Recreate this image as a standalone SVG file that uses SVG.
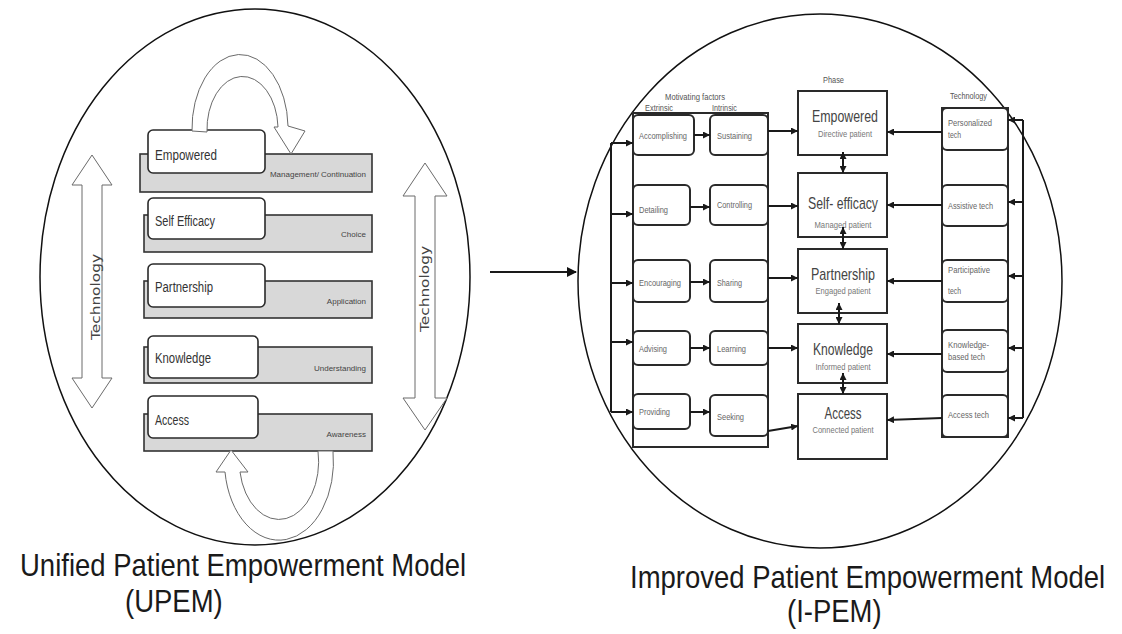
<svg xmlns="http://www.w3.org/2000/svg" width="1122" height="634" viewBox="0 0 1122 634">
  <style>
    .ring{fill:none;stroke:#111;stroke-width:1.5}
    .hollow{fill:#fff;stroke:#6a6a6a;stroke-width:1}
    .bar{fill:#d8d8d8;stroke:#333;stroke-width:1.6}
    .step{fill:#fff;stroke:#2a2a2a;stroke-width:1.6}
    text{font-family:"Liberation Sans",Arial,sans-serif}
    .stepT{font-size:14px;fill:#333}
    .barT{font-size:8px;fill:#444;text-anchor:end}
    .techV{font-family:"DejaVu Sans",sans-serif;font-size:13px;fill:#444;text-anchor:middle}
    .box{fill:#fff;stroke:#2a2a2a;stroke-width:2}
    .frame{fill:none;stroke:#2a2a2a;stroke-width:2}
    .wire{fill:none;stroke:#1a1a1a;stroke-width:2}
    .small{font-size:9px;fill:#666}
    .head{font-size:9px;fill:#555}
    .phT{font-size:17px;fill:#444;text-anchor:middle}
    .phS{font-size:9.5px;fill:#777;text-anchor:middle}
    .title{font-size:27.5px;fill:#1a1a1a}
  </style>
  <defs>
    <marker id="ah" viewBox="0 0 10 10" refX="10" refY="5" markerWidth="3.5" markerHeight="3.5" orient="auto-start-reverse" markerUnits="strokeWidth">
      <path d="M0,0 L10,5 L0,10 z" fill="#1a1a1a"/>
    </marker>
    <marker id="ahL" viewBox="0 0 10 10" refX="9" refY="5" markerWidth="5" markerHeight="5" orient="auto" markerUnits="strokeWidth">
      <path d="M0,0 L10,5 L0,10 z" fill="#111"/>
    </marker>
  </defs>

  <!-- ===== Unified model (left) ===== -->
  <g id="upem-circle">
    <ellipse class="ring" cx="255" cy="277" rx="215" ry="268"/>
  </g>

  <g id="upem-tech-left">
    <polygon class="hollow" points="92,155 112,185 102,185 102,378 112,378 92,408 72,378 82,378 82,185 72,185"/>
    <text class="techV" transform="translate(100,297) rotate(-90)" textLength="86" lengthAdjust="spacingAndGlyphs">Technology</text>
  </g>
  <g id="upem-tech-right">
    <polygon class="hollow" points="425,163 447,196 435,196 435,398 447,398 425,430 403,398 415,398 415,196 403,196"/>
    <text class="techV" transform="translate(429,289) rotate(-90)" textLength="86" lengthAdjust="spacingAndGlyphs">Technology</text>
  </g>

  <g id="upem-empowered">
    <rect class="bar" x="140" y="154" width="232" height="38"/>
    <rect class="step" x="148" y="130" width="117" height="43" rx="5"/>
    <text class="stepT" x="155" y="160" textLength="62" lengthAdjust="spacingAndGlyphs">Empowered</text>
    <text class="barT" x="366" y="177">Management/ Continuation</text>
  </g>
  <g id="upem-selfefficacy">
    <rect class="bar" x="144" y="215" width="228" height="37"/>
    <rect class="step" x="148" y="198" width="117" height="41" rx="5"/>
    <text class="stepT" x="155" y="226" textLength="60" lengthAdjust="spacingAndGlyphs">Self Efficacy</text>
    <text class="barT" x="366" y="237">Choice</text>
  </g>
  <g id="upem-partnership">
    <rect class="bar" x="144" y="281" width="228" height="37"/>
    <rect class="step" x="148" y="264" width="117" height="43" rx="5"/>
    <text class="stepT" x="155" y="292" textLength="58" lengthAdjust="spacingAndGlyphs">Partnership</text>
    <text class="barT" x="366" y="304">Application</text>
  </g>
  <g id="upem-knowledge">
    <rect class="bar" x="144" y="347" width="228" height="36"/>
    <rect class="step" x="148" y="336" width="110" height="42" rx="5"/>
    <text class="stepT" x="155" y="363" textLength="56" lengthAdjust="spacingAndGlyphs">Knowledge</text>
    <text class="barT" x="366" y="371">Understanding</text>
  </g>
  <g id="upem-access">
    <rect class="bar" x="144" y="414" width="228" height="37"/>
    <rect class="step" x="148" y="396" width="110" height="42" rx="5"/>
    <text class="stepT" x="155" y="425" textLength="34" lengthAdjust="spacingAndGlyphs">Access</text>
    <text class="barT" x="366" y="437">Awareness</text>
  </g>

  <g id="upem-cycle">
    <!-- loop over the top step -->
    <path class="hollow" d="M192,131 A48,74 0 0 1 288,126 L305,131 L291,154 L274,127 L278,127 A35.5,53 0 0 0 207,132 Z"/>
    <!-- loop under the bottom step -->
    <path class="hollow" d="M225,472 A54,78 0 0 0 333,451 L318,451 A39,57 0 0 1 240,472 L248,472 L231,450 L216,472 Z"/>
  </g>

  <!-- transition arrow -->
  <g id="transition">
    <line class="wire" x1="490" y1="272" x2="576" y2="272" marker-end="url(#ahL)"/>
  </g>

  <!-- ===== Improved model (right) ===== -->
  <g id="ipem-circle">
    <ellipse class="ring" cx="820" cy="281" rx="242" ry="267"/>
  </g>

  <g id="ipem-headings">
    <text class="head" x="823" y="83" textLength="21" lengthAdjust="spacingAndGlyphs">Phase</text>
    <text class="head" x="665" y="100" textLength="60" lengthAdjust="spacingAndGlyphs">Motivating factors</text>
    <text class="head" x="645" y="111" textLength="28" lengthAdjust="spacingAndGlyphs">Extrinsic</text>
    <text class="head" x="712" y="111" textLength="25" lengthAdjust="spacingAndGlyphs">Intrinsic</text>
    <text class="head" x="950" y="99" textLength="37" lengthAdjust="spacingAndGlyphs">Technology</text>
  </g>

  <g id="factors-frame">
    <rect class="frame" x="633" y="113" width="135" height="334"/>
  </g>

  <g id="f-accomplishing"><rect class="box" x="633" y="115" width="61" height="40" rx="5"/><text class="small" x="639" y="139" textLength="48" lengthAdjust="spacingAndGlyphs">Accomplishing</text></g>
  <g id="f-sustaining"><rect class="box" x="710" y="115" width="58" height="40" rx="5"/><text class="small" x="717" y="139" textLength="35" lengthAdjust="spacingAndGlyphs">Sustaining</text></g>
  <g id="f-detailing"><rect class="box" x="633" y="185" width="57" height="40" rx="5"/><text class="small" x="639" y="213" textLength="29" lengthAdjust="spacingAndGlyphs">Detailing</text></g>
  <g id="f-controlling"><rect class="box" x="710" y="185" width="58" height="40" rx="5"/><text class="small" x="717" y="208" textLength="35" lengthAdjust="spacingAndGlyphs">Controlling</text></g>
  <g id="f-encouraging"><rect class="box" x="633" y="260" width="57" height="42" rx="5"/><text class="small" x="639" y="286" textLength="42" lengthAdjust="spacingAndGlyphs">Encouraging</text></g>
  <g id="f-sharing"><rect class="box" x="710" y="260" width="58" height="42" rx="5"/><text class="small" x="717" y="286" textLength="25" lengthAdjust="spacingAndGlyphs">Sharing</text></g>
  <g id="f-advising"><rect class="box" x="633" y="331" width="57" height="34" rx="5"/><text class="small" x="639" y="352" textLength="28" lengthAdjust="spacingAndGlyphs">Advising</text></g>
  <g id="f-learning"><rect class="box" x="710" y="331" width="58" height="34" rx="5"/><text class="small" x="717" y="352" textLength="29" lengthAdjust="spacingAndGlyphs">Learning</text></g>
  <g id="f-providing"><rect class="box" x="633" y="394" width="57" height="35" rx="5"/><text class="small" x="639" y="415" textLength="31" lengthAdjust="spacingAndGlyphs">Providing</text></g>
  <g id="f-seeking"><rect class="box" x="710" y="395" width="58" height="41" rx="5"/><text class="small" x="717" y="420" textLength="27" lengthAdjust="spacingAndGlyphs">Seeking</text></g>

  <g id="p-empowered"><rect class="box" x="798" y="91" width="89" height="64"/><text class="phT" x="845" y="122" textLength="66" lengthAdjust="spacingAndGlyphs">Empowered</text><text class="phS" x="845" y="137" textLength="54" lengthAdjust="spacingAndGlyphs">Directive patient</text></g>
  <g id="p-selfefficacy"><rect class="box" x="798" y="173" width="89" height="64"/><text class="phT" x="843" y="209" textLength="70" lengthAdjust="spacingAndGlyphs">Self- efficacy</text><text class="phS" x="843" y="228" textLength="57" lengthAdjust="spacingAndGlyphs">Managed patient</text></g>
  <g id="p-partnership"><rect class="box" x="798" y="249" width="89" height="64"/><text class="phT" x="843" y="280" textLength="64" lengthAdjust="spacingAndGlyphs">Partnership</text><text class="phS" x="843" y="294" textLength="55" lengthAdjust="spacingAndGlyphs">Engaged patient</text></g>
  <g id="p-knowledge"><rect class="box" x="798" y="324" width="89" height="59"/><text class="phT" x="843" y="355" textLength="60" lengthAdjust="spacingAndGlyphs">Knowledge</text><text class="phS" x="843" y="370" textLength="55" lengthAdjust="spacingAndGlyphs">Informed patient</text></g>
  <g id="p-access"><rect class="box" x="798" y="394" width="89" height="65"/><text class="phT" x="843" y="419" textLength="37" lengthAdjust="spacingAndGlyphs">Access</text><text class="phS" x="843" y="433" textLength="61" lengthAdjust="spacingAndGlyphs">Connected patient</text></g>

  <g id="tech-frame">
    <rect class="frame" x="942" y="108" width="66" height="329"/>
  </g>
  <g id="t-personalized"><rect class="box" x="942" y="108" width="66" height="42" rx="5"/><text class="small" x="948" y="126" textLength="44" lengthAdjust="spacingAndGlyphs">Personalized</text><text class="small" x="948" y="138" textLength="13" lengthAdjust="spacingAndGlyphs">tech</text></g>
  <g id="t-assistive"><rect class="box" x="942" y="185" width="66" height="41" rx="5"/><text class="small" x="948" y="209" textLength="45" lengthAdjust="spacingAndGlyphs">Assistive tech</text></g>
  <g id="t-participative"><rect class="box" x="942" y="260" width="66" height="42" rx="5"/><text class="small" x="948" y="273" textLength="42" lengthAdjust="spacingAndGlyphs">Participative</text><text class="small" x="948" y="294" textLength="13" lengthAdjust="spacingAndGlyphs">tech</text></g>
  <g id="t-knowledge"><rect class="box" x="942" y="330" width="66" height="42" rx="5"/><text class="small" x="948" y="348" textLength="41" lengthAdjust="spacingAndGlyphs">Knowledge-</text><text class="small" x="948" y="360" textLength="37" lengthAdjust="spacingAndGlyphs">based tech</text></g>
  <g id="t-access"><rect class="box" x="942" y="395" width="66" height="42" rx="5"/><text class="small" x="948" y="418" textLength="41" lengthAdjust="spacingAndGlyphs">Access tech</text></g>

  <g id="connectors">
    <!-- left distribution bus -->
    <path class="wire" d="M611,143 V412"/>
    <path class="wire" d="M611,143 H633" marker-end="url(#ah)"/>
    <path class="wire" d="M611,214 H633" marker-end="url(#ah)"/>
    <path class="wire" d="M611,283 H633" marker-end="url(#ah)"/>
    <path class="wire" d="M611,342 H633" marker-end="url(#ah)"/>
    <path class="wire" d="M611,412 H633" marker-end="url(#ah)"/>
    <!-- extrinsic to intrinsic -->
    <path class="wire" d="M694,135 H710" marker-end="url(#ah)"/>
    <path class="wire" d="M690,207 H710" marker-end="url(#ah)"/>
    <path class="wire" d="M690,282 H710" marker-end="url(#ah)"/>
    <path class="wire" d="M690,348 H710" marker-end="url(#ah)"/>
    <path class="wire" d="M690,412 H710" marker-end="url(#ah)"/>
    <!-- factors to phases -->
    <path class="wire" d="M768,131 H798" marker-end="url(#ah)"/>
    <path class="wire" d="M768,206 H798" marker-end="url(#ah)"/>
    <path class="wire" d="M768,278 H798" marker-end="url(#ah)"/>
    <path class="wire" d="M768,348 H798" marker-end="url(#ah)"/>
    <path class="wire" d="M768,431 L798,426" marker-end="url(#ah)"/>
    <!-- between phases -->
    <path class="wire" d="M843,152 V173" marker-start="url(#ah)" marker-end="url(#ah)"/>
    <path class="wire" d="M843,227 V249" marker-start="url(#ah)" marker-end="url(#ah)"/>
    <path class="wire" d="M839,303 V324" marker-start="url(#ah)" marker-end="url(#ah)"/>
    <path class="wire" d="M843,373 V394" marker-start="url(#ah)" marker-end="url(#ah)"/>
    <!-- technology to phases -->
    <path class="wire" d="M942,132 H887" marker-end="url(#ah)"/>
    <path class="wire" d="M942,205 H887" marker-end="url(#ah)"/>
    <path class="wire" d="M942,281 H887" marker-end="url(#ah)"/>
    <path class="wire" d="M942,354 H887" marker-end="url(#ah)"/>
    <path class="wire" d="M942,418 L887,420" marker-end="url(#ah)"/>
    <!-- right distribution bus -->
    <path class="wire" d="M1023,120 V418"/>
    <path class="wire" d="M1023,120 H1008" marker-end="url(#ah)"/>
    <path class="wire" d="M1023,202 H1008" marker-end="url(#ah)"/>
    <path class="wire" d="M1023,276 H1008" marker-end="url(#ah)"/>
    <path class="wire" d="M1023,348 H1008" marker-end="url(#ah)"/>
    <path class="wire" d="M1023,418 H1008" marker-end="url(#ah)"/>
  </g>

  <g id="captions">
    <text class="title" transform="translate(20,576) scale(1,1.12)">Unified Patient Empowerment Model</text>
    <text class="title" transform="translate(125,612) scale(1,1.12)">(UPEM)</text>
    <text class="title" transform="translate(630,588) scale(1,1.12)">Improved Patient Empowerment Model</text>
    <text class="title" transform="translate(787,622) scale(1,1.12)">(I-PEM)</text>
  </g>
</svg>
